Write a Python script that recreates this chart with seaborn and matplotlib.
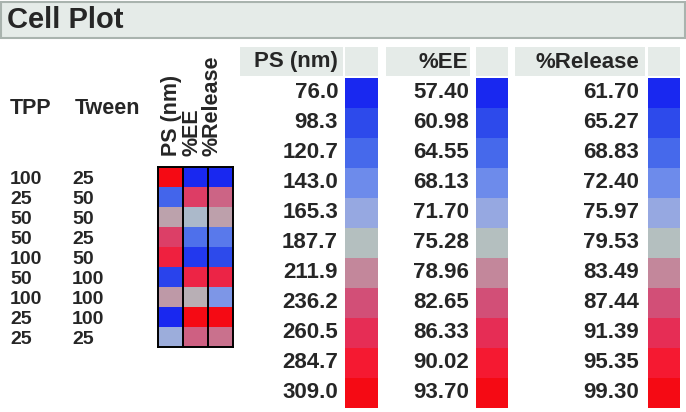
import numpy as np
import pandas as pd
import matplotlib
matplotlib.use("Agg")
import matplotlib.pyplot as plt
import matplotlib.transforms as mtransforms
from matplotlib.colors import LinearSegmentedColormap
from matplotlib.patches import Rectangle
import seaborn as sns

# formulation table (row order as in the cell plot)
tpp = [100, 25, 50, 50, 100, 50, 100, 25, 25]
tween = [25, 50, 50, 25, 50, 100, 100, 100, 25]
ps_nm = [309.0, 118.0, 200.0, 248.0, 275.0, 94.0, 204.0, 76.0, 170.0]
ee_pct = [57.4, 84.5, 74.2, 65.3, 59.2, 88.0, 76.4, 93.7, 81.5]
release_pct = [61.7, 86.0, 81.8, 70.6, 65.3, 93.0, 73.7, 99.3, 85.0]

# legend levels shown next to each colour strip
ps_levels = [76.0, 98.3, 120.7, 143.0, 165.3, 187.7, 211.9, 236.2, 260.5, 284.7, 309.0]
ee_levels = [57.40, 60.98, 64.55, 68.13, 71.70, 75.28, 78.96, 82.65, 86.33, 90.02, 93.70]
release_levels = [61.70, 65.27, 68.83, 72.40, 75.97, 79.53, 83.49, 87.44, 91.39, 95.35, 99.30]

columns = ["PS (nm)", "%EE", "%Release"]

W, H = 686, 412
level_colors = ["#1928f0", "#2d4beb", "#4669eb", "#6e8ceb", "#96a8e1", "#b4c0c0",
                "#c3879b", "#d25078", "#e62d55", "#f51932", "#f50a14"]
cmap = LinearSegmentedColormap.from_list("jmp", level_colors)
bar_bg = "#e5ebe8"

sns.set_theme(style="white")
plt.rcParams["font.family"] = ["Liberation Sans", "DejaVu Sans"]
plt.rcParams["font.weight"] = "bold"


def box(x0, y0, x1, y1):
    # pixel box (top-left origin) -> figure fraction rect
    return [x0 / W, 1 - y1 / H, (x1 - x0) / W, (y1 - y0) / H]


def to_pos(values, levels):
    return np.interp(values, levels, np.linspace(0, 1, len(levels)))


fig = plt.figure(figsize=(W / 100, H / 100), dpi=100)

# title bar
fig.add_artist(Rectangle((1 / W, 1 - 38 / H), 684 / W, 36 / H, transform=fig.transFigure,
                         facecolor=bar_bg, edgecolor="#a9b3ae", lw=1.5))
fig.text(7 / W, 1 - 20 / H, "Cell Plot", fontsize=21, fontweight="bold", va="center", ha="left")

# cell plot
cells = pd.DataFrame({
    "PS (nm)": to_pos(ps_nm, ps_levels),
    "%EE": to_pos(ee_pct, ee_levels),
    "%Release": to_pos(release_pct, release_levels),
})
ax = fig.add_axes(box(158, 167, 233, 347))
sns.heatmap(cells, cmap=cmap, vmin=0, vmax=1, cbar=False, xticklabels=False,
            yticklabels=False, ax=ax)
for j in [1, 2]:
    ax.axvline(j, color="black", lw=1.4)
for s in ax.spines.values():
    s.set_visible(True)
    s.set_color("black")
    s.set_linewidth(1.4)

lab_x = [0.52, 1.36, 2.16]
for j, name in enumerate(columns):
    ax.text(lab_x[j], -0.55, name, rotation=90, ha="center", va="bottom",
            fontsize=15.5, fontweight="bold")

# factor labels on the left
trans = mtransforms.blended_transform_factory(fig.transFigure, ax.transData)
for i in range(len(tpp)):
    ax.text(10 / W, i + 0.65, str(tpp[i]), transform=trans, ha="left", va="center",
            fontsize=14, fontweight="bold")
    ax.text(72 / W, i + 0.65, str(tween[i]), transform=trans, ha="left", va="center",
            fontsize=14, fontweight="bold")
fig.text(10 / W, 1 - 108 / H, "TPP", fontsize=15.5, fontweight="bold", va="center")
fig.text(75 / W, 1 - 108 / H, "Tween", fontsize=15.5, fontweight="bold", va="center")

# colour legends
legends = [
    ("PS (nm)", ps_levels, "{:.1f}", (240, 343), (345, 378), 338, 7),
    ("%EE", ee_levels, "{:.2f}", (386, 470), (476, 508), 468, 7),
    ("%Release", release_levels, "{:.2f}", (515, 645), (648, 680), 639, 9),
]
for title, levels, fmt, hdr, sw, txt_r, pad in legends:
    fig.add_artist(Rectangle((hdr[0] / W, 1 - 76 / H), (hdr[1] - hdr[0]) / W, 29 / H,
                             transform=fig.transFigure, facecolor=bar_bg, edgecolor="none"))
    fig.add_artist(Rectangle((sw[0] / W, 1 - 76 / H), (sw[1] - sw[0]) / W, 29 / H,
                             transform=fig.transFigure, facecolor=bar_bg, edgecolor="none"))
    fig.text(txt_r / W, 1 - 62 / H, title, fontsize=16, fontweight="bold",
             ha="right", va="center")
    labels = [fmt.format(v) for v in levels]
    strip = pd.DataFrame({"v": to_pos(levels, levels)}, index=labels)
    lax = fig.add_axes(box(sw[0], 78, sw[1], 408))
    sns.heatmap(strip, cmap=cmap, vmin=0, vmax=1, cbar=False, xticklabels=False,
                yticklabels=labels, ax=lax)
    lax.tick_params(axis="y", length=0, pad=pad * 0.72, labelsize=16)
    for t in lax.get_yticklabels():
        t.set_fontweight("bold")
        t.set_rotation(0)

fig.savefig("out.png", dpi=100, facecolor="white")
